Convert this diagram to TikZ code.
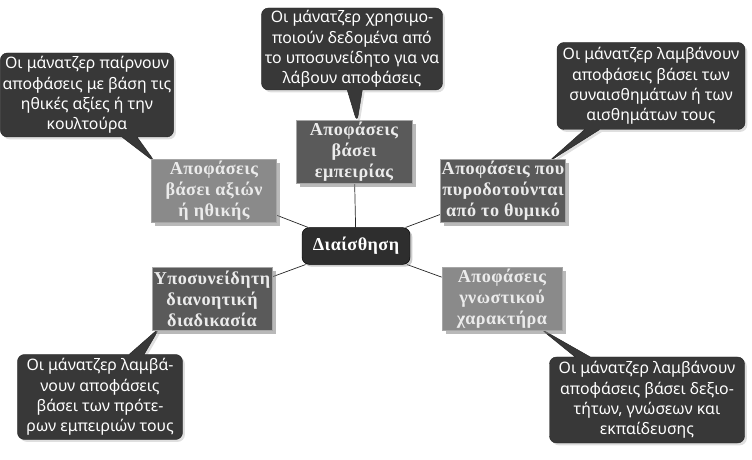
\documentclass[tikz,border=0pt]{standalone}
\usepackage{fontspec}
\setmainfont{Noto Sans}
\newfontfamily\boxfont[LetterSpace=2.5]{Liberation Serif}
\usepackage{tikz}
\usetikzlibrary{shapes.callouts, shadows, backgrounds, calc}
\usepackage{xcolor}
\definecolor{notegray}{HTML}{383838}
\definecolor{hubgray}{HTML}{2E2E2E}
\definecolor{darkbox}{HTML}{5A5A5A}
\definecolor{lightbox}{HTML}{8A8A8A}

\begin{document}
\begin{tikzpicture}[x=0.03cm, y=-0.03cm,
  note/.style={rectangle callout, rounded corners=6pt, fill=notegray,
               draw=black!85, text=white, align=center,
               font=\fontsize{13.5}{17.4}\selectfont, inner sep=2pt,
               callout pointer width=0.45cm,
               drop shadow={shadow xshift=2pt, shadow yshift=-2pt, opacity=.25}},
  topic/.style={rectangle, fill=#1, draw=black!35, text=white!92!black,
                align=center, font=\boxfont\bfseries\fontsize{15.5}{18}\selectfont,
                minimum width=3.6cm, minimum height=1.88cm, inner sep=1pt,
                drop shadow={shadow xshift=3pt, shadow yshift=-3pt, opacity=.55}},
  hub/.style={rectangle, rounded corners=6pt, fill=hubgray, draw=black,
              text=white, font=\boxfont\bfseries\fontsize{15.5}{18}\selectfont,
              minimum width=3.24cm, minimum height=1.1cm,
              drop shadow={shadow xshift=2pt, shadow yshift=-2pt, opacity=.4}},
  link/.style={draw=black!85, line width=0.6pt}
]
  \useasboundingbox (0,0) rectangle (752,460);

  \node[hub] (hub) at (356,246) {Διαίσθηση};

  \node[topic=darkbox, minimum width=3.48cm] (exper) at (354,152)
    {Αποφάσεις\\βάσει\\εμπειρίας};
  \node[topic=lightbox, minimum width=3.75cm] (ethic) at (214,191)
    {Αποφάσεις\\βάσει αξιών\\ή ηθικής};
  \node[topic=darkbox, minimum width=3.69cm] (emot) at (503,191)
    {Αποφάσεις που\\πυροδοτούνται\\από το θυμικό};
  \node[topic=darkbox] (subc) at (212,299)
    {Υποσυνείδητη\\διανοητική\\διαδικασία};
  \node[topic=lightbox] (cogn) at (502,299)
    {Αποφάσεις\\γνωστικού\\χαρακτήρα};

  \begin{scope}[on background layer]
    \draw[link] (hub) -- (exper);
    \draw[link] (hub) -- (ethic);
    \draw[link] (hub) -- (emot);
    \draw[link] (hub) -- (subc);
    \draw[link] (hub) -- (cogn);

    % callouts pointing to the boxes
    \node[note, minimum width=4.95cm, minimum height=2.52cm,
          callout absolute pointer={($(ethic.north west)+(4,3)$)}] (noteA) at (87,95)
      {Οι μάνατζερ παίρνουν\\αποφάσεις με βάση τις\\ηθικές αξίες ή την\\κουλτούρα};
    \node[note, minimum width=5.43cm, minimum height=2.46cm,
          callout absolute pointer={($(exper.north)+(3,2)$)}] (noteB) at (352,49)
      {Οι μάνατζερ χρησιμο-\\ποιούν δεδομένα από\\το υποσυνείδητο για να\\λάβουν αποφάσεις};
    \node[note, minimum width=5.64cm, minimum height=2.61cm,
          callout absolute pointer={($(emot.north east)+(-18,3)$)}] (noteC) at (651,86)
      {Οι μάνατζερ λαμβάνουν\\αποφάσεις βάσει των\\συναισθημάτων ή των\\αισθημάτων τους};
    \node[note, minimum width=4.95cm, minimum height=2.55cm,
          callout absolute pointer={($(subc.south west)+(8,-3)$)}] (noteD) at (100,397)
      {Οι μάνατζερ λαμβά-\\νουν αποφάσεις\\βάσει των πρότε-\\ρων εμπειριών τους};
    \node[note, minimum width=5.85cm, minimum height=2.58cm,
          callout absolute pointer={($(cogn.south east)+(-22,-2)$)}] (noteE) at (647,400)
      {Οι μάνατζερ λαμβάνουν\\αποφάσεις βάσει δεξιο-\\τήτων, γνώσεων και\\εκπαίδευσης};
  \end{scope}
\end{tikzpicture}
\end{document}
